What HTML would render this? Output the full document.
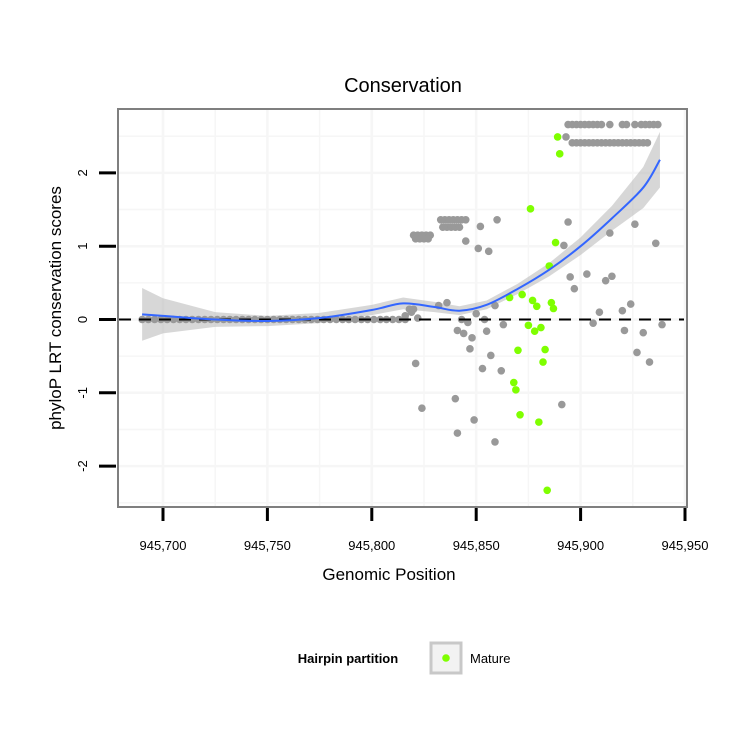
<!DOCTYPE html>
<html><head><meta charset="utf-8"><style>
html,body{margin:0;padding:0;background:#fff;}
svg{display:block;font-family:"Liberation Sans",sans-serif;}
</style></head><body>
<svg id="chart" width="750" height="750" viewBox="0 0 750 750">
<rect x="0" y="0" width="750" height="750" fill="#fff"/>
<text x="403" y="92" font-size="20" text-anchor="middle">Conservation</text>
<g id="grid"></g>
<g id="band"></g>
<g id="pts"></g>
<g id="fit"></g>
<rect x="118" y="109" width="569" height="398" fill="none" stroke="#7f7f7f" stroke-width="2"/>
<g id="axes"></g>
<text x="389" y="580" font-size="17" text-anchor="middle">Genomic Position</text>
<text transform="translate(61,308) rotate(-90)" font-size="17" text-anchor="middle">phyloP LRT conservation scores</text>
<g>
<text x="348" y="663" font-size="13" font-weight="bold" text-anchor="middle">Hairpin partition</text>
<rect x="431" y="643" width="30" height="30" fill="#f2f2f2" stroke="#c8c8c8" stroke-width="3"/>
<circle cx="446" cy="658" r="3.8" fill="#7fff00"/>
<text x="470" y="663" font-size="13">Mature</text>
</g>
</svg>
<script>
const xTicks=[945700,945750,945800,945850,945900,945950];
const xTickLabels=["945,700","945,750","945,800","945,850","945,900","945,950"];
const yTicks=[-2,-1,0,1,2];
const yTickLabels=["-2","-1","0","1","2"];
const zeroX=[945690,945693,945696,945699,945702,945705,945708,945711,945714,945717,945720,945723,945726,945729,945732,945735,945738,945741,945744,945747,945750,945753,945756,945759,945762,945765,945768,945771,945774,945777,945780,945783,945786,945789,945792,945795,945798,945801,945804,945807,945810,945813,945816];
const grayX=[945893,945860,945852,945845,945851,945856,945894,945914,945926,945936,945892,945895,945903,945912,945915,945897,945818,945832,945836,945843,945846,945850,945854,945841,945844,945848,945855,945863,945847,945857,945821,945853,945862,945840,945824,945849,945841,945859,945891,945909,945906,945920,945924,945921,945930,945939,945927,945933,945859,945816,945819,945822,945820,
945894,945896,945898,945900,945902,945904,945906,945908,945910,945914,945920,945922,945926,945929,945931,945933,945935,945937,
945896,945898,945900,945902,945904,945906,945908,945910,945912,945914,945916,945918,945920,945922,945924,945926,945928,945930,945932,
945833,945835,945837,945839,945841,945843,945845,945834,945836,945838,945840,945842,
945820,945822,945824,945826,945828,945821,945823,945825,945827];
const grayY=[2.49,1.36,1.27,1.07,0.97,0.93,1.33,1.18,1.30,1.04,1.01,0.58,0.62,0.53,0.59,0.42,0.14,0.19,0.23,0,-0.04,0.08,0,-0.15,-0.19,-0.25,-0.16,-0.07,-0.40,-0.49,-0.60,-0.67,-0.70,-1.08,-1.21,-1.37,-1.55,-1.67,-1.16,0.10,-0.05,0.12,0.21,-0.15,-0.18,-0.07,-0.45,-0.58,0.19,0.05,0.10,0.02,0.14,
2.66,2.66,2.66,2.66,2.66,2.66,2.66,2.66,2.66,2.66,2.66,2.66,2.66,2.66,2.66,2.66,2.66,2.66,
2.41,2.41,2.41,2.41,2.41,2.41,2.41,2.41,2.41,2.41,2.41,2.41,2.41,2.41,2.41,2.41,2.41,2.41,2.41,
1.36,1.36,1.36,1.36,1.36,1.36,1.36,1.26,1.26,1.26,1.26,1.26,
1.15,1.15,1.15,1.15,1.15,1.10,1.10,1.10,1.10];
const matureX=[945889,945890,945876,945888,945885,945866,945872,945877,945886,945879,945887,945875,945878,945881,945870,945883,945882,945868,945869,945871,945880,945884];
const matureY=[2.49,2.26,1.51,1.05,0.73,0.30,0.34,0.26,0.23,0.18,0.15,-0.08,-0.16,-0.11,-0.42,-0.41,-0.58,-0.86,-0.96,-1.30,-1.40,-2.33];
const fitX=[945690,945700,945725,945750,945775,945800,945815,945830,945842,945855,945870,945885,945900,945915,945930,945938];
const fitY=[0.07,0.05,0.0,-0.02,0.02,0.13,0.22,0.17,0.12,0.2,0.42,0.68,1.0,1.38,1.8,2.18];
const fitSE=[0.36,0.24,0.1,0.07,0.07,0.07,0.08,0.07,0.06,0.06,0.07,0.09,0.12,0.17,0.28,0.38];

const NS="http://www.w3.org/2000/svg";
const sx=v=>163+(v-945700)*(522/250);
const sy=v=>319.5-v*73.3;
function mk(tag,attrs,parent){const e=document.createElementNS(NS,tag);for(const k in attrs)e.setAttribute(k,attrs[k]);document.getElementById(parent).appendChild(e);return e;}

const gx=[945675,945700,945725,945750,945775,945800,945825,945850,945875,945900,945925,945950];
gx.forEach(v=>{const px=sx(v);if(px>119&&px<686){const l=mk('line',{x1:px,x2:px,y1:110,y2:506,stroke:'#f6f6f6','stroke-width':(v%50===0)?2.5:1.5},'grid');

}});
[-2.5,-2,-1.5,-1,-0.5,0,0.5,1,1.5,2,2.5].forEach(v=>{const py=sy(v);if(py>110&&py<506){const l=mk('line',{x1:119,x2:686,y1:py,y2:py,stroke:'#f6f6f6','stroke-width':(v%1===0)?2.5:1.5},'grid');

}});

let up=fitX.map((x,i)=>sx(x)+','+sy(fitY[i]+fitSE[i]));
let lo=fitX.map((x,i)=>sx(x)+','+sy(fitY[i]-fitSE[i])).reverse();
const band=mk('polygon',{points:up.concat(lo).join(' '),fill:'#bdbdbd','fill-opacity':0.6},'band');



zeroX.forEach(x=>{const c=mk('circle',{cx:sx(x),cy:sy(0),r:3.8,fill:'#999'},'pts');

});
grayX.forEach((x,i)=>{const c=mk('circle',{cx:sx(x),cy:sy(grayY[i]),r:3.8,fill:'#999'},'pts');

});
matureX.forEach((x,i)=>{const c=mk('circle',{cx:sx(x),cy:sy(matureY[i]),r:3.8,fill:'#7fff00'},'pts');

});

const dz=mk('line',{x1:119,x2:684,y1:sy(0),y2:sy(0),stroke:'#000','stroke-width':2,'stroke-dasharray':'12,8'},'fit');



const P=fitX.map((x,i)=>[sx(x),sy(fitY[i])]);
let d='M'+P[0][0]+','+P[0][1];
for(let i=0;i<P.length-1;i++){const p0=P[Math.max(i-1,0)],p1=P[i],p2=P[i+1],p3=P[Math.min(i+2,P.length-1)];
d+=' C'+(p1[0]+(p2[0]-p0[0])/6)+','+(p1[1]+(p2[1]-p0[1])/6)+' '+(p2[0]-(p3[0]-p1[0])/6)+','+(p2[1]-(p3[1]-p1[1])/6)+' '+p2[0]+','+p2[1];}
const fl=mk('path',{d:d,fill:'none',stroke:'#3366ff','stroke-width':2},'fit');



xTicks.forEach((v,i)=>{const px=sx(v);
const t=mk('line',{x1:px,x2:px,y1:508,y2:521,stroke:'#000','stroke-width':3},'axes');


const tl=mk('text',{x:px,y:550,'font-size':13,'text-anchor':'middle'},'axes');tl.textContent=xTickLabels[i];

});
yTicks.forEach((v,i)=>{const py=sy(v);
const t=mk('line',{x1:99,x2:116,y1:py,y2:py,stroke:'#000','stroke-width':3},'axes');


const tl=mk('text',{transform:'translate(87,'+py+') rotate(-90)','font-size':13,'text-anchor':'middle'},'axes');tl.textContent=yTickLabels[i];

});
</script>
</body></html>
